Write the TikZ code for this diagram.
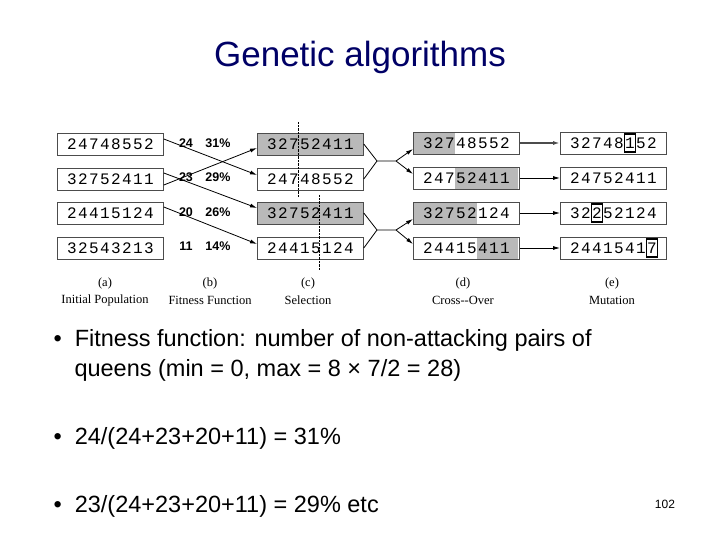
\documentclass[tikz,border=0pt]{standalone}
\usepackage{fontspec}
\setmainfont{Liberation Sans}
\newfontfamily\monof{Liberation Mono}
\newfontfamily\serf{Liberation Serif}
\usetikzlibrary{arrows.meta}
\begin{document}
\begin{tikzpicture}[x=1pt,y=-1pt,
 gbox/.style={draw=black!70,line width=0.8pt,minimum width=106pt,minimum height=22pt,inner sep=0pt},
 dig/.style={font=\monof\fontsize{16}{16}\selectfont,inner sep=0pt},
 fit/.style={font=\bfseries\fontsize{12.5}{12.5}\selectfont},
 lab/.style={font=\serf\fontsize{12.5}{12.5}\selectfont},
 arr/.style={-{Latex[length=7pt,width=4pt]},line width=0.8pt},
 mut/.style={draw,line width=1.4pt,minimum width=11pt,minimum height=18pt,inner sep=0pt},
 bul/.style={anchor=base west,font=\fontsize{23.5}{28}\selectfont,align=left}]
\useasboundingbox (0,0) rectangle (720,540);
\node[font=\fontsize{35}{35}\selectfont,text=blue!40!black] (title) at (360,57) {Genetic algorithms};
\newcommand\gen[4]{% name, x-left, ycenter, digits
 \node[gbox,anchor=west] (#1) at (#2,#3) {};
 \foreach \d [count=\i] in {#4} {\node[dig] (#1-\i) at (#2+15+11*\i-11,#3) {\d};}}
% shading
\fill[gray!55] (257,133) rectangle (363,155);
\fill[gray!55] (257,202) rectangle (363,224);
\fill[gray!55] (413,132) rectangle (455,154);
\fill[gray!55] (455,167) rectangle (518,189);
\fill[gray!55] (413,202) rectangle (477,224);
\fill[gray!55] (477,237) rectangle (518,259);
% column a
\gen{a1}{57}{144}{2,4,7,4,8,5,5,2}
\gen{a2}{57}{179}{3,2,7,5,2,4,1,1}
\gen{a3}{57}{213}{2,4,4,1,5,1,2,4}
\gen{a4}{57}{248}{3,2,5,4,3,2,1,3}
% fitness
\foreach \v/\p/\y in {24/31\%/143,23/29\%/177,20/26\%/212,11/14\%/246}{
 \node[fit] at (186,\y) {\v}; \node[fit] at (218,\y) {\p};}
% column c
\gen{c1}{257}{144}{3,2,7,5,2,4,1,1}
\gen{c2}{257}{179}{2,4,7,4,8,5,5,2}
\gen{c3}{257}{213}{3,2,7,5,2,4,1,1}
\gen{c4}{257}{248}{2,4,4,1,5,1,2,4}
\draw[densely dotted] (298,122) -- (298,197);
\draw[densely dotted] (319,195) -- (319,270);
% column d
\gen{d1}{413}{143}{3,2,7,4,8,5,5,2}
\gen{d2}{413}{178}{2,4,7,5,2,4,1,1}
\gen{d3}{413}{213}{3,2,7,5,2,1,2,4}
\gen{d4}{413}{248}{2,4,4,1,5,4,1,1}
% column e
\gen{e1}{560}{143}{3,2,7,4,8,1,5,2}
\gen{e2}{560}{178}{2,4,7,5,2,4,1,1}
\gen{e3}{560}{213}{3,2,2,5,2,1,2,4}
\gen{e4}{560}{248}{2,4,4,1,5,4,1,7}
\node[mut] at (e1-6) {}; \node[mut] at (e3-3) {}; \node[mut] at (e4-8) {};
% selection arrows
\draw[arr] ([yshift=5pt]a1.east) -- ([yshift=4pt]c2.west);
\draw[arr] ([yshift=-6pt]a2.east) -- ([yshift=-4pt]c1.west);
\draw[arr] ([yshift=6pt]a2.east) -- ([yshift=5pt]c3.west);
\draw[arr] ([yshift=6pt]a3.east) -- ([yshift=4pt]c4.west);
% crossover
\coordinate (j1) at (377,161); \coordinate (k1) at (396,161);
\coordinate (j2) at (377,230); \coordinate (k2) at (396,230);
\draw[line width=0.8pt] (c1.east) -- (j1) -- (k1); \draw[line width=0.8pt] (c2.east) -- (j1);
\draw[line width=0.8pt] (c3.east) -- (j2) -- (k2); \draw[line width=0.8pt] (c4.east) -- (j2);
\draw[arr] (k1) -- ([yshift=-6pt]d1.west);
\draw[arr] (k1) -- ([yshift=4pt]d2.west);
\draw[arr] (k2) -- ([yshift=-6pt]d3.west);
\draw[arr] (k2) -- ([yshift=4pt]d4.west);
% mutation arrows
\draw[arr,line width=1.6pt,draw=black!70] (d1) -- (e1);
\draw[arr] (d2) -- (e2); \draw[arr] (d3) -- (e3); \draw[arr] (d4) -- (e4);
% labels
\foreach \x/\l/\t in {105/a/Initial Population,210/b/Fitness Function,308/c/Selection,463/d/Cross--Over,612/e/Mutation}{
 \node[lab] at (\x,283) {(\l)}; \node[lab] at (\x,300) {\t};}
% bullets
\node[bul] (b1) at (50,346) {\textbullet\ \ Fitness function: number of non-attacking pairs of};
\node[bul] (b1b) at (71,376) {queens (min = 0, max = 8 × 7/2 = 28)};
\node[bul] (b2) at (50,444) {\textbullet\ \ 24/(24+23+20+11) = 31\%};
\node[bul] (b3) at (50,512) {\textbullet\ \ 23/(24+23+20+11) = 29\% etc};
\node[font=\fontsize{12}{12}\selectfont] (pg) at (665,504) {102};
\end{tikzpicture}
\end{document}
